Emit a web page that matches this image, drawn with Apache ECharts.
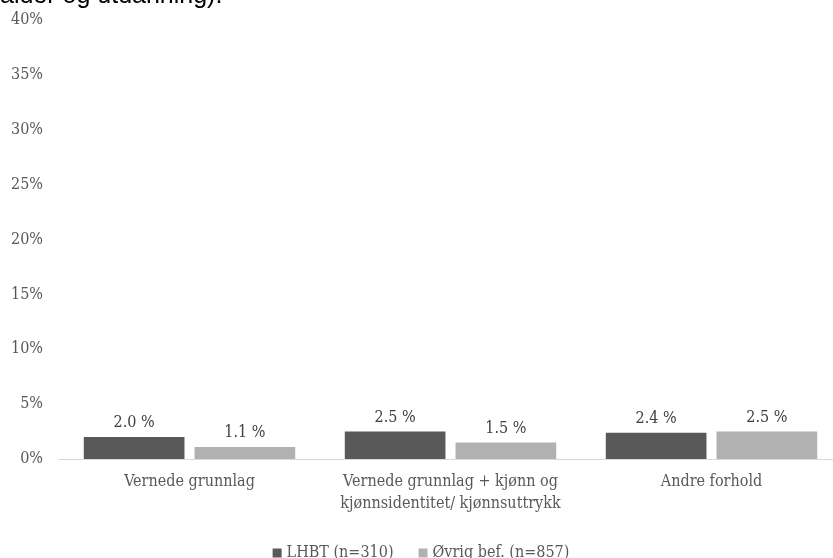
<!DOCTYPE html>
<html><head><meta charset="utf-8">
<script src="https://cdn.jsdelivr.net/npm/echarts@6/dist/echarts.min.js"></script>
<style>html,body{margin:0;padding:0;background:#fff;overflow:hidden}#c{width:842px;height:558px}</style>
</head><body><div id="c"></div>
<script>
var categories = ['Vernede grunnlag', 'Vernede grunnlag + kjønn og\nkjønnsidentitet/ kjønnsuttrykk', 'Andre forhold'];
var seriesNames = ['LHBT (n=310)', 'Øvrig bef. (n=857)'];
var lhbt = [2.0, 2.5, 2.4];
var ovrig = [1.1, 1.5, 2.5];
var yTicks = {min: 0, max: 40, interval: 5};
var titleText = 'alder og utdanning).';

var font = '"DejaVu Serif Condensed", "DejaVu Serif", serif';
var chart = echarts.init(document.getElementById('c'), null, {renderer: 'canvas'});
function lbl() {
  return {show: true, position: 'top', distance: 6, color: '#404040', fontFamily: font, fontSize: 16,
    formatter: function (p) { return p.value.toFixed(1) + ' %'; }};
}
chart.setOption({
  animation: false,
  graphic: [{type: 'text', x: 0, y: 9,
    style: {text: titleText, font: '25px "Liberation Sans"', fill: '#000', textAlign: 'left', textVerticalAlign: 'bottom'}}],
  grid: {left: 59, top: 20, right: 0, bottom: 99, containLabel: false},
  legend: {top: 540, left: 'center', itemWidth: 9, itemHeight: 9, itemGap: 25, icon: 'rect',
    textStyle: {fontFamily: font, fontSize: 16, color: '#595959'}, data: seriesNames},
  xAxis: {type: 'category', data: categories,
    axisLine: {lineStyle: {color: '#d9d9d9', width: 1}}, axisTick: {show: false},
    axisLabel: {fontFamily: font, fontSize: 16, color: '#595959', margin: 12, lineHeight: 22, interval: 0}},
  yAxis: {type: 'value', min: yTicks.min, max: yTicks.max, interval: yTicks.interval,
    axisLine: {show: false}, axisTick: {show: false}, splitLine: {show: false},
    axisLabel: {formatter: '{value}%', fontFamily: font, fontSize: 16, color: '#595959', margin: 16}},
  series: [
    {name: seriesNames[0], type: 'bar', data: lhbt, itemStyle: {color: '#595959'}, barGap: '10%', barCategoryGap: '19%', label: lbl()},
    {name: seriesNames[1], type: 'bar', data: ovrig, itemStyle: {color: '#b1b1b1'}, label: lbl()}
  ]
});
</script></body></html>
